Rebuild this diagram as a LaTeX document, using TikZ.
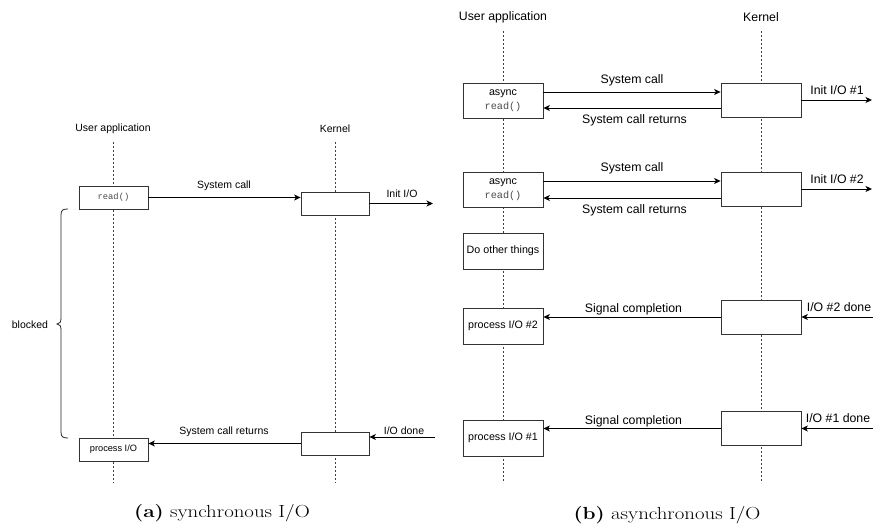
\documentclass[tikz,border=0pt]{standalone}
\usepackage{fontspec}
\setsansfont{Liberation Sans}
\setmonofont{Liberation Mono}
\usetikzlibrary{arrows.meta}

\begin{document}
\begin{tikzpicture}[x=1pt,y=-1pt,
  lbla/.style={font=\sffamily\fontsize{10.5}{12}\selectfont, inner sep=0pt},
  lblb/.style={font=\sffamily\fontsize{12.3}{14}\selectfont, inner sep=0pt},
  boxa/.style={draw=black!80, fill=white, line width=0.8pt, minimum width=69pt,
    minimum height=23pt, inner sep=0pt, font=\sffamily\fontsize{9.2}{11}\selectfont},
  boxb/.style={draw=black!80, fill=white, line width=0.8pt, minimum width=80pt,
    minimum height=35pt, inner sep=0pt, align=center,
    font=\sffamily\fontsize{10.7}{14}\selectfont},
  life/.style={draw=black!75, line width=0.8pt, dash pattern=on 2pt off 2pt},
  msg/.style={draw=black, line width=0.9pt,
    -{Stealth[length=6.5pt,width=6pt,inset=1.8pt]}},
  caption/.style={font=\rmfamily\fontsize{17.5}{20}\selectfont, inner sep=0pt}
]
\useasboundingbox (0,0) rectangle (873,529);

% ---------------- (a) synchronous I/O ----------------
\node[lbla] (uaA) at (113,129) {User application};
\node[lbla] (kA)  at (335,129) {Kernel};
\coordinate (uaAtop) at (113,142); \coordinate (uaAbot) at (113,483);
\coordinate (kAtop)  at (335,142); \coordinate (kAbot)  at (335,483);
\draw[life] (uaAtop) -- (uaAbot);
\draw[life] (kAtop) -- (kAbot);

\node[boxa] (readA) at (113.5,197.5)
  {\ttfamily\fontsize{8.8}{10}\selectfont\color{black!70}read()};
\node[boxa, minimum width=68pt] (kA1) at (335,203.5) {};
\node[boxa] (procA) at (113.5,449.5) {process I/O};
\node[boxa, minimum width=68pt] (kA2) at (335,443.5) {};
\coordinate (initA) at (433,203.5);
\coordinate (doneA) at (435,437);

\draw[msg] (readA.east) -- (readA.east -| kA1.west);
\node[lbla] (lblCallA) at (224,186) {System call};
\draw[msg] (kA1.east) -- (initA);
\node[lbla] (lblInitA) at (402,194) {Init I/O};

\draw[msg] (kA2.west) -- (kA2.west -| procA.east);
\node[lbla] (lblRetA) at (224,432) {System call returns};
\draw[msg] (doneA) -- (doneA -| kA2.east);
\node[lbla] (lblDoneA) at (404,431) {I/O done};

% curly brace marking the blocked interval
\draw[black!85, line width=0.8pt]
  (68,209) .. controls (63,209) and (61,210) .. (61,215)
  -- (61,318) .. controls (61,322) and (60,324) .. (57,324)
  .. controls (60,324) and (61,326) .. (61,330)
  -- (61,432) .. controls (61,437) and (63,438) .. (68,438);
\node[lbla] (blocked) at (30,325) {blocked};

\node[caption] (capA) at (222,513)
  {\scalebox{1.19}[1]{\textbf{(a)} synchronous I/O}};

% ---------------- (b) asynchronous I/O ----------------
\node[lblb] (uaB) at (503,17) {User application};
\node[lblb] (kB)  at (761,17) {Kernel};
\coordinate (uaBtop) at (503,31); \coordinate (uaBbot) at (503,483);
\coordinate (kBtop)  at (761,31); \coordinate (kBbot)  at (761,483);
\draw[life] (uaBtop) -- (uaBbot);
\draw[life] (kBtop) -- (kBbot);

\node[boxb] (rb1) at (503,100.5)
  {async\\{\ttfamily\fontsize{10.2}{12}\selectfont\color{black!70}read()}};
\node[boxb, minimum height=34pt] (rk1) at (761,100) {};
\node[boxb] (rb2) at (503,189.5)
  {async\\{\ttfamily\fontsize{10.2}{12}\selectfont\color{black!70}read()}};
\node[boxb, minimum height=34pt] (rk2) at (761,189) {};
\node[boxb, minimum height=36pt] (other) at (503,251) {Do other things};
\node[boxb, minimum height=36pt] (pb2) at (503,326) {process I/O \#2};
\node[boxb, minimum height=34pt] (rk3) at (761,317) {};
\node[boxb, minimum height=36pt] (pb1) at (503,438) {process I/O \#1};
\node[boxb, minimum height=34pt] (rk4) at (761,428.5) {};

\coordinate (initB1) at (872,100);
\coordinate (initB2) at (872,189);
\coordinate (doneB2) at (873,317);
\coordinate (doneB1) at (873,428.5);

% first asynchronous request
\draw[msg] ([yshift=8.5pt]rb1.east) -- ([yshift=8.5pt]rb1.east -| rk1.west);
\node[lblb] (lblCallB1) at (632,80) {System call};
\draw[msg] ([yshift=-8pt]rk1.west) -- ([yshift=-8pt]rk1.west -| rb1.east);
\node[lblb] (lblRetB1) at (634.5,120.5) {System call returns};
\draw[msg] (rk1.east) -- (initB1);
\node[lblb] (lblInitB1) at (837,90) {Init I/O \#1};

% second asynchronous request
\draw[msg] ([yshift=8.5pt]rb2.east) -- ([yshift=8.5pt]rb2.east -| rk2.west);
\node[lblb] (lblCallB2) at (632,168) {System call};
\draw[msg] ([yshift=-9pt]rk2.west) -- ([yshift=-9pt]rk2.west -| rb2.east);
\node[lblb] (lblRetB2) at (634.5,210) {System call returns};
\draw[msg] (rk2.east) -- (initB2);
\node[lblb] (lblInitB2) at (837,179) {Init I/O \#2};

% completions
\draw[msg] (rk3.west) -- (rk3.west -| pb2.east);
\node[lblb] (lblSig2) at (633.5,309) {Signal completion};
\draw[msg] (doneB2) -- (doneB2 -| rk3.east);
\node[lblb] (lblDone2) at (839,307) {I/O \#2 done};

\draw[msg] (rk4.west) -- (rk4.west -| pb1.east);
\node[lblb] (lblSig1) at (633.5,421) {Signal completion};
\draw[msg] (doneB1) -- (doneB1 -| rk4.east);
\node[lblb] (lblDone1) at (838,418) {I/O \#1 done};

\node[caption] (capB) at (667,515)
  {\scalebox{1.19}[1]{\textbf{(b)} asynchronous I/O}};
\end{tikzpicture}
\end{document}
